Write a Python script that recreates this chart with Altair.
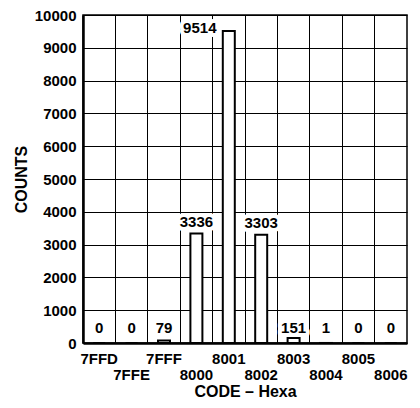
import altair as alt
import pandas as pd

codes = ["7FFD", "7FFE", "7FFF", "8000", "8001", "8002", "8003", "8004", "8005", "8006"]
counts = [0, 0, 79, 3336, 9514, 3303, 151, 1, 0, 0]
y_ticks = [0, 1000, 2000, 3000, 4000, 5000, 6000, 7000, 8000, 9000, 10000]

df = pd.DataFrame({"code": codes, "count": counts})

FONT = "Liberation Sans"
lower_row = "[" + ",".join("'%s'" % c for c in codes[1::2]) + "]"

x_axis = alt.Axis(
    title="CODE – Hexa", labelAngle=0, bandPosition=0,
    ticks=False, grid=True, gridColor="black", gridWidth=1, gridOpacity=1,
    domainColor="black", domainWidth=2.5,
    labelFont=FONT, labelFontSize=15, labelFontWeight="bold", labelColor="black",
    labelBaseline="top", labelLineHeight=16, labelPadding=8,
    labelExpr="indexof(%s, datum.label) >= 0 ? ['', datum.label] : datum.label" % lower_row,
    titleFont=FONT, titleFontSize=16, titleFontWeight="bold", titleColor="black",
    titlePadding=1,
)
y_axis = alt.Axis(
    title="COUNTS", values=y_ticks, format="d", ticks=False, grid=True, gridColor="black",
    gridWidth=1, gridOpacity=1, domainColor="black", domainWidth=2.5,
    labelFont=FONT, labelFontSize=15, labelFontWeight="bold", labelColor="black",
    labelPadding=7,
    titleFont=FONT, titleFontSize=16, titleFontWeight="bold", titleColor="black",
    titlePadding=5,
)

x_enc = alt.X("code:N", sort=codes, scale=alt.Scale(paddingInner=0, paddingOuter=0), axis=x_axis)
y_scale = alt.Scale(domain=[0, 10000])
y_enc = alt.Y("count:Q", scale=y_scale, axis=y_axis)

base = alt.Chart(df)

bars = base.mark_bar(fill="white", stroke="black", strokeWidth=2, size=12).encode(x=x_enc, y=y_enc)


def label_layers(sub, y, dx=0, dy=0):
    common = dict(font=FONT, fontSize=15, fontWeight="bold", baseline="middle", align="center", dx=dx, dy=dy)
    halo = sub.mark_text(fill="white", stroke="white", strokeWidth=8, strokeJoin="round", **common).encode(
        x=x_enc, y=y, text=alt.Text("count:Q", format="d"))
    txt = sub.mark_text(fill="black", **common).encode(
        x=x_enc, y=y, text=alt.Text("count:Q", format="d"))
    return [halo, txt]


small = base.transform_filter("datum.count < 1000")
mid = base.transform_filter("datum.count >= 1000 && datum.count < 9000")
top = base.transform_filter("datum.count >= 9000")

layers = [bars]
layers += label_layers(small, alt.YDatum(470, scale=y_scale, axis=y_axis))
layers += label_layers(mid, y_enc, dy=-12)
layers += label_layers(top, y_enc, dx=-29, dy=-3)

chart = alt.layer(*layers).properties(
    width=324, height=328,
    autosize=alt.AutoSizeParams(type="none"),
    padding={"left": 75, "top": 7, "right": 5, "bottom": 57},
    background="white",
).configure_view(stroke="black", strokeWidth=1.5)

chart.save("out.html", embed_options={"renderer": "svg", "actions": False})
